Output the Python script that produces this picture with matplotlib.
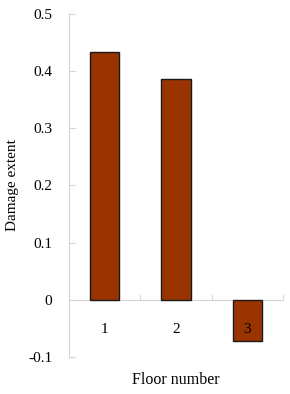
import numpy as np
import matplotlib.pyplot as plt

# data
floors = [1, 2, 3]
damage = [0.434, 0.386, -0.072]
y_ticks = [-0.1, 0, 0.1, 0.2, 0.3, 0.4, 0.5]
y_labels = ['-0.1', '0', '0.1', '0.2', '0.3', '0.4', '0.5']

plt.rcParams['font.family'] = ['Liberation Serif', 'DejaVu Serif']

fig = plt.figure(figsize=(2.9, 3.94), dpi=100)
ax = fig.add_axes([69 / 290, 1 - 357 / 394, 214 / 290, 343 / 394])

ax.bar(floors, damage, width=0.41, color='#993300', edgecolor='#1a1a1a', linewidth=1.0, zorder=2)

ax.set_xlim(0.5, 3.5)
ax.set_ylim(-0.1, 0.5)

gray = '#d4d4d4'
for s in ['top', 'right']:
    ax.spines[s].set_visible(False)
ax.spines['left'].set_color(gray)
ax.spines['bottom'].set_color(gray)
ax.spines['bottom'].set_position(('data', 0))
ax.spines['bottom'].set_zorder(1)

ax.set_yticks(y_ticks)
ax.set_yticklabels(y_labels, fontsize=11)
ax.tick_params(axis='y', direction='in', length=4, color=gray, pad=12)

ax.set_xticks(floors)
ax.set_xticklabels([str(f) for f in floors], fontsize=11)
ax.tick_params(axis='x', which='major', length=0, pad=17)
ax.set_xticks([1.5, 2.5, 3.5], minor=True)
ax.tick_params(axis='x', which='minor', direction='in', length=4, color=gray)
ax.xaxis.set_zorder(3)  # keep "3" visible on top of the negative bar

ax.set_ylabel('Damage extent', fontsize=11)
ax.yaxis.set_label_coords(-0.235, 0.5)
ax.set_xlabel('Floor number', fontsize=11.5)
ax.xaxis.set_label_coords(0.5, -0.045)

fig.savefig('out.png', dpi=100)
